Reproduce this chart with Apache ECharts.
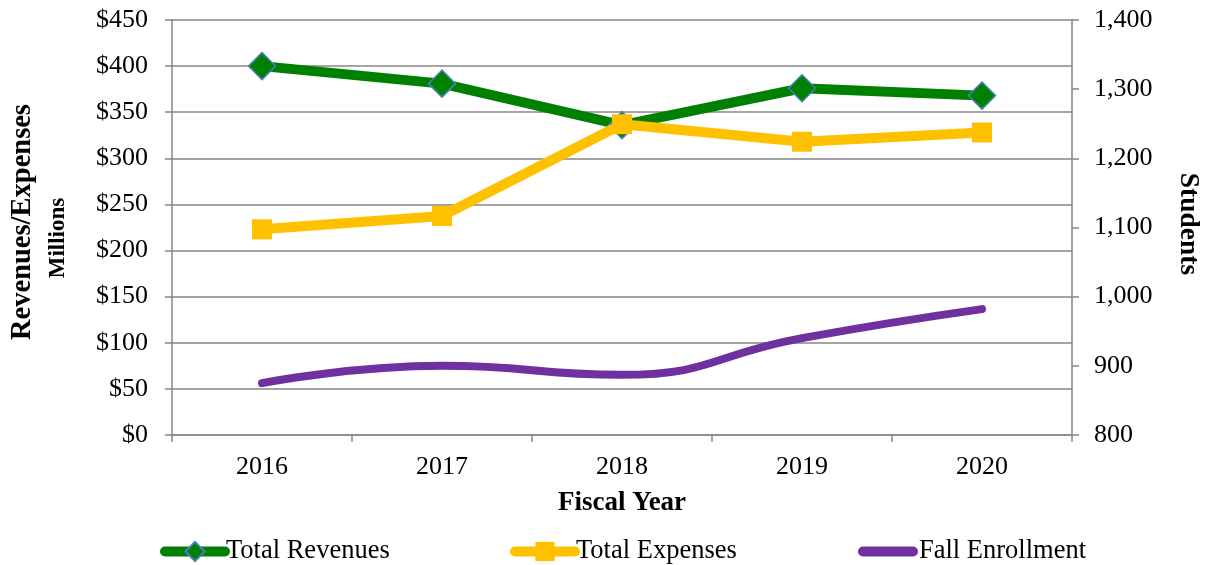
<!DOCTYPE html>
<html>
<head>
<meta charset="utf-8">
<script src="https://cdn.jsdelivr.net/npm/echarts@6/dist/echarts.min.js"></script>
<style>
html,body{margin:0;padding:0;background:#fff;}
#c{width:1211px;height:565px;}
</style>
</head>
<body>
<div id="c"></div>
<script>
const years = ['2016', '2017', '2018', '2019', '2020'];
const totalRevenues = [400, 381, 336, 376, 368];
const totalExpenses = [223, 237.5, 337, 318, 328];
const fallEnrollment = [875, 900, 887, 940, 982];

const FONT = '"Liberation Serif", "Times New Roman", serif';
const GRAY = '#868686';
const TICK_FS = 26;
const LEG_FS = 26.5;

const legendText = {fontFamily: FONT, fontSize: LEG_FS, color: '#000', padding: [0, 0, 0, -4]};

const chart = echarts.init(document.getElementById('c'), null, {renderer: 'canvas'});
chart.setOption({
  animation: false,
  backgroundColor: '#fff',
  textStyle: {fontFamily: FONT, color: '#000'},
  grid: {left: 172, right: 139, top: 20, bottom: 130, containLabel: false},
  xAxis: {
    type: 'category',
    data: years,
    boundaryGap: true,
    name: 'Fiscal Year',
    nameLocation: 'middle',
    nameGap: 55,
    nameTextStyle: {fontFamily: FONT, fontSize: 27, fontWeight: 'bold', color: '#000'},
    axisLine: {lineStyle: {color: GRAY, width: 1.5}},
    axisTick: {show: true, interval: 0, alignWithLabel: false, length: 7, lineStyle: {color: GRAY, width: 1.5}},
    axisLabel: {fontFamily: FONT, fontSize: TICK_FS, color: '#000', margin: 19},
    splitLine: {show: false}
  },
  yAxis: [
    {
      type: 'value', min: 0, max: 450, interval: 50, position: 'left',
      axisLine: {show: true, lineStyle: {color: GRAY, width: 1.5}},
      axisTick: {show: true, length: 7, lineStyle: {color: GRAY, width: 1.5}},
      axisLabel: {fontFamily: FONT, fontSize: TICK_FS, color: '#000', margin: 24, formatter: v => '$' + v},
      splitLine: {show: true, lineStyle: {color: GRAY, width: 1.5}}
    },
    {
      type: 'value', min: 800, max: 1400, interval: 100, position: 'right',
      axisLine: {show: true, lineStyle: {color: GRAY, width: 1.5}},
      axisTick: {show: true, length: 7, lineStyle: {color: GRAY, width: 1.5}},
      axisLabel: {fontFamily: FONT, fontSize: TICK_FS, color: '#000', margin: 22,
        formatter: v => v.toLocaleString('en-US')},
      splitLine: {show: false}
    }
  ],
  legend: [
    {left: 155, top: 533, itemWidth: 60, itemHeight: 24, itemGap: 0,
     lineStyle: {width: 10, cap: 'round'},
     textStyle: legendText, data: ['Total Revenues']},
    {left: 505, top: 533, itemWidth: 60, itemHeight: 24, itemGap: 0,
     lineStyle: {width: 10, cap: 'round'},
     textStyle: legendText, data: ['Total Expenses']},
    {left: 853, top: 533, itemWidth: 60, itemHeight: 24, itemGap: 0,
     textStyle: legendText,
     data: [{name: 'Fall Enrollment',
             icon: 'path://M5,0 L55,0 A5,5 0 0 1 55,10 L5,10 A5,5 0 0 1 5,0 Z'}]}
  ],
  series: [
    {
      name: 'Total Revenues', type: 'line', yAxisIndex: 0, data: totalRevenues,
      symbol: 'diamond', symbolSize: 27, z: 3,
      lineStyle: {color: '#008000', width: 10},
      itemStyle: {color: '#008000', borderColor: '#4a7ebb', borderWidth: 1.5}
    },
    {
      name: 'Total Expenses', type: 'line', yAxisIndex: 0, data: totalExpenses,
      symbol: 'rect', symbolSize: 20, z: 4,
      lineStyle: {color: '#FFC000', width: 10},
      itemStyle: {color: '#FFC000', borderWidth: 0}
    },
    {
      name: 'Fall Enrollment', type: 'line', yAxisIndex: 1, data: fallEnrollment,
      symbol: 'none', smooth: 0.5,
      lineStyle: {color: '#7030A0', width: 8, cap: 'round'},
      itemStyle: {color: '#7030A0'}
    }
  ],
  graphic: [
    {type: 'text', x: 23, y: 222, rotation: Math.PI / 2,
     style: {text: 'Revenues/Expenses', fontFamily: FONT, fontSize: 28.5, fontWeight: 'bold', fill: '#000', align: 'center', verticalAlign: 'middle'}},
    {type: 'text', x: 58, y: 238, rotation: Math.PI / 2,
     style: {text: 'Millions', fontFamily: FONT, fontSize: 23, fontWeight: 'bold', fill: '#000', align: 'center', verticalAlign: 'middle'}},
    {type: 'text', x: 1188, y: 224, rotation: -Math.PI / 2,
     style: {text: 'Students', fontFamily: FONT, fontSize: 27.5, fontWeight: 'bold', fill: '#000', align: 'center', verticalAlign: 'middle'}}
  ]
});
</script>
</body>
</html>
